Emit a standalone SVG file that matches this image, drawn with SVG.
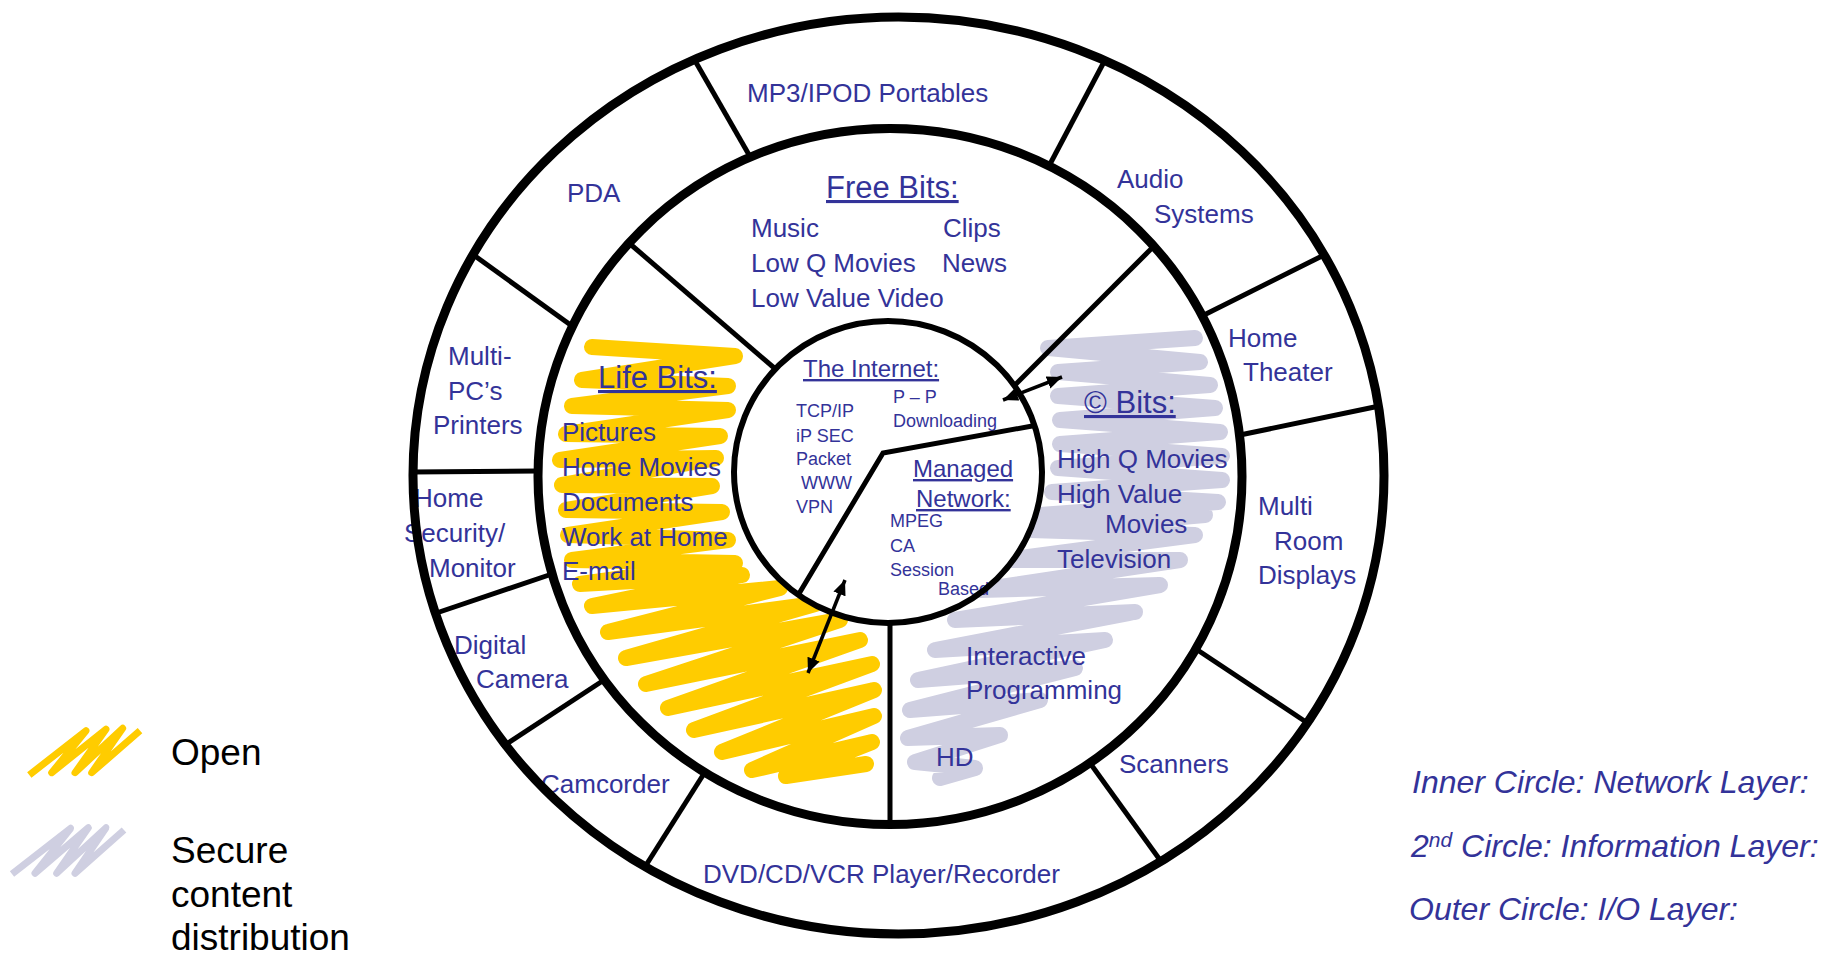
<svg xmlns="http://www.w3.org/2000/svg" width="1837" height="955" viewBox="0 0 1837 955">
<style>
.t{font-family:"Liberation Sans",Arial,sans-serif;fill:#333399}
.o{font-size:26px}
.h{font-size:31px;text-decoration:underline}
.ih{font-size:24px;text-decoration:underline}
.n{font-size:18px}
.lg{font-family:"Liberation Sans",Arial,sans-serif;font-size:37px;fill:#000}
.it{font-family:"Liberation Sans",Arial,sans-serif;font-style:italic;font-size:32px;fill:#333399}
.ring{fill:none;stroke:#000}
.div{stroke:#000;stroke-width:5;fill:none}
.arr{stroke:#000;stroke-width:3.5;fill:none;marker-start:url(#ah);marker-end:url(#ah)}
.sy{fill:none;stroke:#FFCC00;stroke-linejoin:round;stroke-linecap:round}
.sg{fill:none;stroke:#CFCFE1;stroke-linejoin:round;stroke-linecap:round}
</style>
<defs>
<marker id="ah" markerUnits="userSpaceOnUse" markerWidth="16" markerHeight="14" refX="15" refY="6.5" orient="auto-start-reverse" viewBox="0 0 16 14">
<path d="M0,0 L15,6.5 L0,13 Z" fill="#000"/>
</marker>
</defs>
<rect width="1837" height="955" fill="#fff"/>

<g id="scribbles">
<path class="sy" stroke-width="16" d="M592,347 L735,356 L582,380 L728,386 L572,406 L728,410 L566,434 L720,436 L560,460 L716,458 L562,485 L712,486 L566,510 L722,512 L568,535 L728,540 L572,560 L735,563 L580,584 L742,575 L592,606 L780,588 L608,632 L815,604 L626,658 L840,620 L646,684 L860,640 L668,708 L872,664 L694,730 L874,690 L722,752 L874,716 L752,770 L872,742 L786,776 L866,764"/>
<path class="sg" stroke-width="16" d="M1195,338 L1048,348 L1200,362 L1058,372 L1210,385 L1058,396 L1215,408 L1060,420 L1220,432 L1060,444 L1222,456 L1058,468 L1222,480 L1052,492 L1218,502 L1040,515 L1205,515 L1030,530 L1195,535 L1005,560 L1180,560 L980,590 L1160,585 L955,620 L1135,612 L935,650 L1105,640 L918,680 L1075,668 L910,710 L1040,700 L908,738 L1000,735 L915,762 L975,768 L940,778"/>
</g>

<ellipse id="inner-fill" cx="888" cy="472" rx="154" ry="151" fill="#fff"/>

<g id="outer-layer">
<g id="n-mp3"><text class="t o" x="747" y="102">MP3/IPOD Portables</text></g>
<g id="n-pda"><text class="t o" x="567" y="202">PDA</text></g>
<g id="n-audio"><text class="t o" x="1117" y="188">Audio</text><text class="t o" x="1154" y="223">Systems</text></g>
<g id="n-theater"><text class="t o" x="1228" y="347">Home</text><text class="t o" x="1243" y="381">Theater</text></g>
<g id="n-multiroom"><text class="t o" x="1258" y="515">Multi</text><text class="t o" x="1274" y="550">Room</text><text class="t o" x="1258" y="584">Displays</text></g>
<g id="n-scanners"><text class="t o" x="1119" y="773">Scanners</text></g>
<g id="n-dvd"><text class="t o" x="703" y="883">DVD/CD/VCR Player/Recorder</text></g>
<g id="n-camcorder"><text class="t o" x="541" y="793">Camcorder</text></g>
<g id="n-camera"><text class="t o" x="454" y="654">Digital</text><text class="t o" x="476" y="688">Camera</text></g>
<g id="n-security"><text class="t o" x="414" y="507">Home</text><text class="t o" x="404" y="542">Security/</text><text class="t o" x="429" y="577">Monitor</text></g>
<g id="n-pc"><text class="t o" x="448" y="365">Multi-</text><text class="t o" x="448" y="400">PC’s</text><text class="t o" x="433" y="434">Printers</text></g>
</g>

<g id="info-layer">
<g id="n-free"><text class="t h" x="826" y="198">Free Bits:</text>
<text class="t o" x="751" y="237">Music</text><text class="t o" x="943" y="237">Clips</text>
<text class="t o" x="751" y="272">Low Q Movies</text><text class="t o" x="942" y="272">News</text>
<text class="t o" x="751" y="307">Low Value Video</text></g>
<g id="n-life"><text class="t h" x="598" y="388">Life Bits:</text>
<text class="t o" x="562" y="441">Pictures</text><text class="t o" x="562" y="476">Home Movies</text>
<text class="t o" x="562" y="511">Documents</text><text class="t o" x="562" y="546">Work at Home</text>
<text class="t o" x="562" y="580">E-mail</text></g>
<g id="n-copy"><text class="t h" x="1084" y="413">© Bits:</text>
<text class="t o" x="1057" y="468">High Q Movies</text><text class="t o" x="1057" y="503">High Value</text>
<text class="t o" x="1105" y="533">Movies</text><text class="t o" x="1057" y="568">Television</text></g>
<g id="n-interactive"><text class="t o" x="966" y="665">Interactive</text><text class="t o" x="966" y="699">Programming</text>
<text class="t o" x="936" y="766">HD</text></g>
</g>

<g id="network-layer">
<g id="n-internet"><text class="t ih" x="803" y="377">The Internet:</text>
<text class="t n" x="796" y="417">TCP/IP</text><text class="t n" x="796" y="442">iP SEC</text>
<text class="t n" x="796" y="465">Packet</text><text class="t n" x="801" y="489">WWW</text>
<text class="t n" x="796" y="513">VPN</text>
<text class="t n" x="893" y="403">P – P</text><text class="t n" x="893" y="427">Downloading</text></g>
<g id="n-managed"><text class="t ih" x="913" y="477">Managed</text><text class="t ih" x="916" y="507">Network:</text>
<text class="t n" x="890" y="527">MPEG</text><text class="t n" x="890" y="552">CA</text>
<text class="t n" x="890" y="576">Session</text><text class="t n" x="938" y="595">Based</text></g>
</g>

<g id="rings">
<ellipse class="ring" stroke-width="9" cx="898.5" cy="475.5" rx="485.5" ry="458.5"/>
<ellipse class="ring" stroke-width="9" cx="890" cy="476.5" rx="352" ry="348"/>
<ellipse class="ring" stroke-width="6" cx="888" cy="472" rx="154" ry="151"/>
</g>

<g id="connectors">
<line class="div" x1="694.6" y1="60" x2="752" y2="160"/>
<line class="div" x1="1105" y1="60" x2="1049" y2="166"/>
<line class="div" x1="475" y1="256" x2="572" y2="326"/>
<line class="div" x1="1322" y1="256" x2="1202" y2="316"/>
<line class="div" x1="1377" y1="406.5" x2="1240" y2="435"/>
<line class="div" x1="412" y1="472" x2="538" y2="471"/>
<line class="div" x1="435" y1="613.5" x2="552" y2="574"/>
<line class="div" x1="502" y1="747" x2="604" y2="680"/>
<line class="div" x1="645.5" y1="866" x2="705" y2="772"/>
<line class="div" x1="1160" y1="860" x2="1090" y2="763"/>
<line class="div" x1="1306" y1="722" x2="1196" y2="649"/>
<line class="div" x1="629" y1="243" x2="776" y2="369.5"/>
<line class="div" x1="1153" y1="247" x2="1015" y2="385"/>
<line class="div" stroke-width="4.5" x1="890" y1="623" x2="890" y2="824"/>
<polyline class="div" stroke-width="6" points="798.5,594.5 883,453 1035,425.5"/>
<line class="arr" x1="1003" y1="400" x2="1062" y2="377"/>
<line class="arr" x1="845" y1="580" x2="808" y2="673"/>
</g>

<g id="legend">
<g id="legend-open">
<polyline points="29.3,775 86,730.7 51.7,772.7 106,729.3 75,772.7 122.7,728.3 91.7,772.7 140,730.7" fill="none" stroke="#FFCC00" stroke-width="7" stroke-linejoin="round"/>
<text class="lg" x="171" y="765">Open</text>
</g>
<g id="legend-secure">
<polyline points="12,874 70.7,828.3 35,873.3 88.3,827.7 56.7,873.3 106,827.7 75,873.3 124,830" fill="none" stroke="#CFCFE1" stroke-width="7" stroke-linejoin="round"/>
<text class="lg" x="171" y="863">Secure</text>
<text class="lg" x="171" y="907">content</text>
<text class="lg" x="171" y="950">distribution</text>
</g>
</g>

<g id="layers-key">
<text class="it" x="1412" y="793">Inner Circle: Network Layer:</text>
<text class="it" x="1411" y="857">2<tspan font-size="21" dy="-10">nd</tspan><tspan dy="10"> Circle: Information Layer:</tspan></text>
<text class="it" x="1409" y="920">Outer Circle: I/O Layer:</text>
</g>
</svg>
